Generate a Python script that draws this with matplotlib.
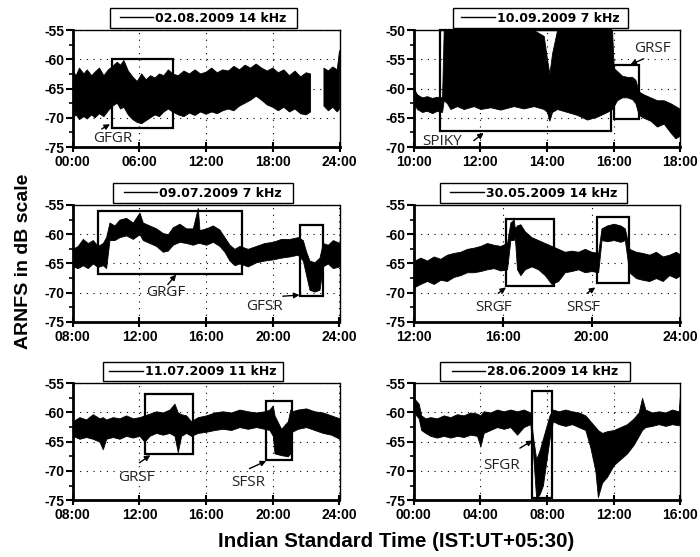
import numpy as np
import matplotlib.pyplot as plt
from matplotlib.patches import Rectangle
from matplotlib.lines import Line2D
from matplotlib.ticker import MultipleLocator, FuncFormatter

plt.rcParams['axes.unicode_minus'] = False
plt.rcParams['font.family'] = ['Liberation Sans', 'DejaVu Sans']

# ---- panel 1: 02.08.2009 14 kHz (gap ~21.4-22.6 h) ----
t1 = [0, 0.3, 0.6, 1.0, 1.3, 1.7, 2.0, 2.4, 2.8, 3.2, 3.6, 4.0, 4.3, 4.6, 5.0, 5.4, 5.8, 6.2, 6.6, 7.0,
      7.4, 7.8, 8.2, 8.6, 9.0, 9.5, 10.0, 10.5, 11.0, 11.5, 12.0, 12.5, 13.0, 13.5, 14.0, 14.5, 15.0,
      15.5, 16.0, 16.5, 17.0, 17.5, 18.0, 18.5, 19.0, 19.5, 20.0, 20.5, 21.0, 21.4, np.nan,
      22.6, 23.0, 23.4, 23.8, 24.0]
hi1 = [-62.0, -62.8, -61.5, -62.5, -61.8, -62.8, -62.2, -61.5, -62.8, -61.8, -61.2, -60.5, -61.0, -60.2,
       -62.0, -63.0, -63.8, -62.5, -63.5, -62.8, -63.2, -62.5, -62.8, -61.8, -62.5, -62.8, -62.0, -62.5,
       -61.8, -62.5, -62.2, -61.5, -62.3, -61.8, -62.0, -61.2, -61.8, -61.0, -61.5, -60.8, -61.5, -62.0,
       -61.5, -62.3, -61.8, -62.8, -62.0, -63.0, -62.3, -62.5, np.nan,
       -61.5, -62.0, -61.3, -61.8, -58.5]
lo1 = [-70.0, -69.5, -70.3, -69.8, -70.2, -69.5, -70.0, -69.3, -69.8, -68.8, -68.0, -67.5, -68.5, -68.2,
       -69.5, -70.3, -70.8, -71.0, -70.5, -70.0, -69.5, -69.8, -69.0, -68.5, -69.0, -69.5, -69.8, -69.2,
       -69.6, -69.0, -69.4, -69.0, -69.3, -68.8, -68.5, -68.8, -68.0, -67.5, -67.0, -66.3, -67.0, -67.8,
       -68.2, -68.8, -68.2, -69.0, -68.5, -69.3, -69.5, -69.0, np.nan,
       -68.0, -68.8, -68.2, -69.0, -68.5]

# ---- panel 2: 10.09.2009 7 kHz ----
t2 = [10.0, 10.1, 10.25, 10.4, 10.55, 10.7, 10.85,
      10.9, 11.0, 11.1, 11.3, 11.5, 11.8, 12.0, 12.3, 12.6, 13.0, 13.3, 13.6, 13.9,
      14.0, 14.07, 14.15, 14.3, 14.6, 14.9, 15.2, 15.5, 15.8, 15.95,
      16.0, 16.1, 16.25, 16.4, 16.55, 16.65, 16.75, 16.9, 17.1, 17.3, 17.5, 17.7, 17.85, 18.0]
hi2 = [-60.0, -61.0, -61.5, -61.3, -61.6, -61.4, -61.5,
       -50.0, -50.0, -50.0, -50.0, -50.0, -50.0, -50.0, -50.0, -50.0, -50.0, -50.0, -50.0, -51.0,
       -55.0, -57.5, -54.0, -50.0, -50.0, -50.0, -50.0, -50.0, -50.0, -50.0,
       -56.5, -57.0, -57.8, -58.0, -58.0, -58.5, -60.5, -61.0, -61.5, -62.0, -62.0, -62.5, -63.0, -63.5]
lo2 = [-62.5, -63.5, -64.0, -63.8, -64.2, -63.8, -64.0,
       -62.0, -62.5, -63.5, -63.0, -63.5, -63.0, -63.5, -63.2, -63.6, -63.0, -63.4, -63.0, -63.5,
       -64.0, -65.5, -64.0, -63.5, -64.0, -64.5, -65.3, -64.8, -64.0, -63.5,
       -63.0, -62.0, -61.5, -61.5, -61.8, -62.5, -64.5, -65.0, -65.5, -66.5, -66.0, -67.5, -68.5, -68.0]

# ---- panel 3: 09.07.2009 7 kHz ----
t3 = [8.0, 8.3, 8.6, 8.9, 9.2, 9.5, 9.8, 10.0, 10.2, 10.5, 10.8, 11.2, 11.6, 12.0, 12.2, 12.6,
      13.0, 13.4, 13.7, 14.0, 14.4, 14.8, 15.2, 15.5, 15.6, 16.0, 16.4, 16.8, 17.1, 17.4, 17.7, 18.0,
      18.5, 19.0, 19.5, 20.0, 20.5, 21.0, 21.5, 21.8, 22.0, 22.2, 22.5, 22.8, 23.0, 23.3, 23.6, 24.0]
hi3 = [-62.5, -62.0, -60.8, -61.5, -61.0, -62.0, -61.5, -60.5, -58.0, -58.5, -57.5, -57.2, -58.0, -56.3,
       -58.0, -58.5, -59.0, -59.8, -60.0, -58.8, -58.2, -59.0, -59.0, -55.5, -59.3, -59.0, -58.5, -59.2,
       -60.5, -61.8, -62.5, -62.0, -62.5, -62.0, -61.5, -61.3, -60.8, -60.8, -60.5, -61.0, -63.0, -64.5,
       -64.8, -64.0, -61.5, -61.8, -61.0, -61.5]
lo3 = [-65.5, -65.8, -65.3, -65.8, -65.0, -65.6, -65.3, -65.8, -61.0, -61.0, -60.5, -60.2, -60.8, -60.0,
       -61.0, -61.5, -62.0, -63.0, -62.8, -61.8, -61.3, -61.5, -61.8, -61.5, -61.5, -61.8, -61.3, -62.0,
       -63.0, -64.5, -65.3, -65.0, -65.5, -64.8, -64.5, -64.3, -64.0, -63.8, -63.5, -64.5, -67.0, -69.5,
       -69.8, -69.5, -65.5, -65.0, -65.8, -65.5]

# ---- panel 4: 30.05.2009 14 kHz ----
t4 = [12.0, 12.05, 12.3, 12.6, 12.9, 13.2, 13.5, 13.8, 14.1, 14.4, 14.7, 15.0, 15.3, 15.6, 15.9, 16.2,
      16.35, 16.5, 16.55, 16.65, 16.8, 17.0, 17.3, 17.6, 17.9, 18.2, 18.5, 18.8, 19.1, 19.4, 19.7, 20.0,
      20.3, 20.45, 20.7, 21.0, 21.3, 21.5, 21.7, 22.0, 22.3, 22.6, 22.9, 23.2, 23.5, 23.8, 24.0]
hi4 = [-66.0, -64.5, -64.0, -64.5, -63.8, -64.2, -63.5, -63.2, -63.0, -62.5, -62.3, -62.0, -61.5, -61.8,
       -62.0, -61.5, -58.0, -57.5, -59.0, -58.5, -58.3, -59.5, -60.5, -61.0, -61.5, -62.0, -62.5, -63.0,
       -62.8, -63.0, -62.5, -63.0, -63.2, -59.0, -58.5, -58.2, -58.5, -59.0, -62.5, -63.0, -63.2, -63.5,
       -63.0, -63.8, -63.5, -63.0, -63.5]
lo4 = [-70.0, -69.0, -68.5, -68.0, -68.5, -67.8, -68.0, -67.3, -67.0, -66.5, -66.5, -66.3, -66.0, -65.8,
       -66.2, -66.0, -61.0, -61.0, -60.5, -66.0, -67.0, -66.0, -65.5, -66.0, -67.0, -68.5, -68.0, -66.5,
       -66.3, -66.0, -66.5, -66.3, -66.5, -61.0, -61.2, -61.0, -61.3, -61.0, -66.5, -67.5, -67.8, -68.0,
       -67.5, -68.0, -67.0, -67.5, -67.0]

# ---- panel 5: 11.07.2009 11 kHz ----
t5 = [8.0, 8.4, 8.8, 9.2, 9.6, 9.8, 10.0, 10.4, 10.8, 11.2, 11.6, 12.0, 12.3, 12.6, 13.0, 13.4,
      13.8, 14.1, 14.3, 14.5, 14.8, 15.1, 15.5, 16.0, 16.5, 17.0, 17.5, 18.0, 18.5, 19.0, 19.5, 19.8,
      20.0, 20.1, 20.5, 20.9, 21.05, 21.15, 21.5, 22.0, 22.5, 23.0, 23.5, 24.0]
hi5 = [-61.5, -60.8, -61.2, -60.3, -61.0, -60.8, -61.2, -60.8, -61.0, -60.5, -61.0, -60.8, -60.5, -60.2,
       -59.8, -60.0, -59.5, -58.5, -60.0, -60.3, -60.5, -61.5, -60.8, -60.5, -60.0, -59.8, -60.0, -59.5,
       -59.8, -60.0, -59.8, -59.5, -58.8, -60.5, -62.8, -61.5, -59.5, -59.8, -59.5, -59.3, -59.8, -60.0,
       -60.5, -61.0]
lo5 = [-64.0, -64.5, -64.2, -64.5, -65.0, -66.3, -64.5, -64.2, -64.5, -64.0, -64.3, -64.0, -65.0, -64.0,
       -63.5, -63.8, -63.5, -64.0, -66.8, -64.0, -63.5, -64.0, -63.5, -63.3, -63.0, -62.8, -63.0, -62.5,
       -62.8, -62.5, -62.8, -63.0, -64.0, -67.0, -67.3, -67.5, -67.0, -63.3, -62.8, -62.5, -63.0, -63.5,
       -63.8, -64.5]

# ---- panel 6: 28.06.2009 14 kHz ----
t6 = [0.0, 0.15, 0.3, 0.45, 0.7, 1.0, 1.4, 1.8, 2.2, 2.6, 3.0, 3.4, 3.8, 4.0, 4.2, 4.6,
      5.0, 5.4, 5.8, 6.2, 6.6, 7.0, 7.15, 7.35, 7.55, 7.75, 7.95, 8.15, 8.35, 8.7, 9.1, 9.5,
      9.9, 10.3, 10.6, 10.9, 11.05, 11.3, 11.6, 12.0, 12.4, 12.8, 13.2, 13.5, 13.7, 13.9, 14.3, 14.7,
      15.1, 15.5, 15.9, 16.0]
hi6 = [-57.5, -58.0, -58.5, -60.5, -61.0, -60.8, -61.0, -60.5, -60.8, -60.3, -60.5, -60.0, -60.2, -60.5,
       -59.8, -60.0, -59.5, -59.8, -59.5, -59.8, -59.5, -60.0, -64.0, -68.0, -66.5, -64.5, -62.5, -60.5,
       -59.5, -59.8, -59.5, -59.8, -60.0, -60.5, -61.5, -62.5, -63.0, -63.5, -63.2, -63.0, -62.5, -62.0,
       -61.0, -60.0, -57.5, -59.5, -60.0, -59.8, -60.0, -59.5, -59.8, -56.0]
lo6 = [-59.5, -60.5, -61.0, -63.0, -63.5, -64.0, -64.3, -64.0, -64.3, -64.0, -64.2, -63.8, -64.0, -65.8,
       -63.5, -63.0, -62.5, -62.8, -62.5, -63.8, -62.5, -62.0, -66.5, -74.8, -74.0, -72.5, -68.5, -64.5,
       -61.5, -62.0, -62.3, -62.0, -62.5, -63.0, -66.0, -70.0, -74.5, -72.0, -71.0, -69.0, -68.0, -67.0,
       -65.5, -64.0, -63.0, -62.5, -62.3, -62.0, -62.3, -62.0, -62.2, -61.5]

legends = ["02.08.2009 14 kHz", "10.09.2009 7 kHz", "09.07.2009 7 kHz",
           "30.05.2009 14 kHz", "11.07.2009 11 kHz", "28.06.2009 14 kHz"]
xlims = [(0, 24), (10, 18), (8, 24), (12, 24), (8, 24), (0, 16)]
xsteps = [6, 2, 4, 4, 4, 4]
ylims = [(-75, -55), (-70, -50), (-75, -55), (-75, -55), (-75, -55), (-75, -55)]

# event boxes (t0, y0, t1, y1)
boxes = [
    [(3.5, -71.7, 9.0, -60.0)],
    [(10.8, -67.3, 15.92, -50.0), (16.0, -65.2, 16.75, -56.0)],
    [(9.54, -66.8, 18.14, -56.1), (21.66, -70.6, 23.0, -58.4)],
    [(16.14, -68.9, 18.32, -57.4), (20.24, -68.4, 21.67, -57.1)],
    [(12.35, -67.1, 15.22, -56.9), (19.62, -68.1, 21.13, -58.0)],
    [(7.1, -74.7, 8.32, -56.4)],
]
# labels (text, x, y) and arrows (tail x, tail y, tip x, tip y)
labels = [
    [("GFGR", 3.64, -73.5)],
    [("SPIKY", 10.85, -69.0), ("GRSF", 17.15, -53.1)],
    [("GRGF", 13.6, -70.0), ("GFSR", 19.5, -72.4)],
    [("SRGF", 15.58, -72.5), ("SRSF", 19.64, -72.5)],
    [("GRSF", 11.8, -71.1), ("SFSR", 18.5, -71.9)],
    [("SFGR", 5.27, -69.1)],
]
arrows = [
    [(2.6, -71.9, 3.35, -71.1)],
    [(11.8, -68.9, 12.1, -67.6), (16.9, -54.9, 16.5, -55.9)],
    [(13.7, -68.6, 14.2, -66.9), (20.6, -70.6, 21.6, -70.4)],
    [(15.8, -70.1, 16.15, -69.1), (19.8, -70.1, 20.17, -69.1)],
    [(12.0, -68.6, 12.65, -67.3), (18.6, -69.6, 19.6, -68.3)],
    [(6.37, -66.1, 7.13, -64.8)],
]
leg_x = [0.139, 0.146, 0.15, 0.098, 0.112, 0.10]
leg_w = [0.70, 0.656, 0.674, 0.703, 0.675, 0.71]

series = [(t1, hi1, lo1), (t2, hi2, lo2), (t3, hi3, lo3),
          (t4, hi4, lo4), (t5, hi5, lo5), (t6, hi6, lo6)]

fig = plt.figure(figsize=(7, 5.57), dpi=100)
lefts = [0.104, 0.591]
bottoms = [0.736, 0.422, 0.102]
leg_y, leg_h = 1.017, 0.168

for i, (t, hi, lo) in enumerate(series):
    ax = fig.add_axes([lefts[i % 2], bottoms[i // 2], 0.381, 0.21])
    t, hi, lo = np.array(t, float), np.array(hi, float), np.array(lo, float)
    ax.fill_between(t, lo, hi, color='k', lw=0.6)
    ax.set_xlim(*xlims[i])
    ax.set_ylim(*ylims[i])
    ax.xaxis.set_major_locator(MultipleLocator(xsteps[i]))
    ax.xaxis.set_major_formatter(FuncFormatter(lambda v, p: "%02d:00" % int(round(v))))
    ax.yaxis.set_major_locator(MultipleLocator(5))
    ax.yaxis.set_minor_locator(MultipleLocator(2.5))
    ax.tick_params(axis='x', which='major', direction='inout', length=7, width=1.5,
                   labelsize=10, pad=2)
    ax.tick_params(axis='y', which='major', direction='out', length=5, width=1.5,
                   labelsize=10, pad=1)
    ax.tick_params(axis='y', which='minor', direction='out', length=3, width=1.2)
    for lab in ax.get_xticklabels() + ax.get_yticklabels():
        lab.set_fontweight('bold')
    ax.grid(True, which='major', color='k', linestyle=(0, (1, 5)), linewidth=0.8)
    ax.spines['left'].set_linewidth(2)
    ax.spines['bottom'].set_linewidth(2)
    ax.spines['top'].set_linewidth(1)
    ax.spines['right'].set_linewidth(1)

    for (x0, y0, x1, y1) in boxes[i]:
        ax.add_patch(Rectangle((x0, y0), x1 - x0, y1 - y0, fill=False, ec='k', lw=1.6,
                               clip_on=False, zorder=4))
    for (txt, x, y) in labels[i]:
        ax.text(x, y, txt, ha='center', va='center', fontsize=11, family='Open Sans',
                color='#222222', zorder=5)
    for (xa, ya, xb, yb) in arrows[i]:
        ax.annotate('', xy=(xb, yb), xytext=(xa, ya),
                    arrowprops=dict(arrowstyle='-|>', color='k', lw=1, mutation_scale=8,
                                    shrinkA=0, shrinkB=0), zorder=5)

    # legend: frame drawn as a box above the axes, entry centred in it
    ax.add_patch(Rectangle((leg_x[i], leg_y), leg_w[i], leg_h, transform=ax.transAxes,
                           fill=False, ec='k', lw=1, clip_on=False))
    ax.legend(handles=[Line2D([], [], color='k', lw=1)], labels=[legends[i]],
              loc='center', bbox_to_anchor=(leg_x[i] + leg_w[i] / 2, leg_y + leg_h / 2),
              frameon=False, borderpad=0, borderaxespad=0, handlelength=2.7,
              handletextpad=0.15, prop={'family': 'DejaVu Sans', 'size': 9, 'weight': 'bold'})

fig.text(0.033, 0.530, 'ARNFS in dB scale', rotation=90, ha='center', va='center',
         fontsize=14, fontweight='bold')
fig.text(0.566, 0.027, 'Indian Standard Time (IST:UT+05:30)', ha='center', va='center',
         fontsize=14.8, fontweight='bold')

fig.savefig('out.png', dpi=100)
